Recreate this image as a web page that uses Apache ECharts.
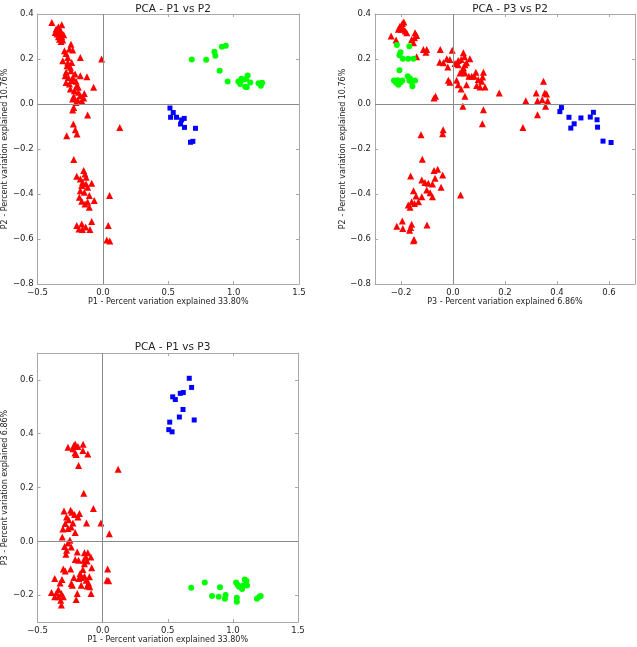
<!DOCTYPE html>
<html>
<head>
<meta charset="utf-8">
<script src="https://cdn.jsdelivr.net/npm/echarts@6/dist/echarts.min.js"></script>
<style>
html,body{margin:0;padding:0;background:#fff;}
#chart{width:637px;height:647px;}
</style>
</head>
<body>
<div id="chart"></div>
<script>
// ---- Data ----
// Panel 1: P1 (x) vs P2 (y)
const p1p2Red = [
[-0.391,0.362],[-0.315,0.352],[-0.358,0.333],[-0.345,0.322],[-0.325,0.314],[-0.350,0.311],[-0.315,0.299],[-0.332,0.288],[-0.307,0.284],
[-0.340,0.343],[-0.325,0.328],[-0.365,0.318],[-0.300,0.308],[-0.340,0.299],[-0.320,0.278],
[-0.244,0.266],[-0.256,0.244],[-0.282,0.225],[-0.231,0.240],[-0.294,0.237],[-0.173,0.207],[-0.010,0.200],[-0.269,0.207],
[-0.307,0.192],[-0.269,0.185],[-0.239,0.185],[-0.274,0.170],[-0.249,0.163],[-0.282,0.141],[-0.244,0.148],[-0.173,0.126],[-0.122,0.121],
[-0.289,0.126],[-0.213,0.133],[-0.264,0.118],[-0.231,0.118],[-0.282,0.096],[-0.256,0.089],[-0.206,0.101],[-0.239,0.104],[-0.200,0.081],
[-0.071,0.074],[-0.188,0.074],[-0.249,0.067],[-0.218,0.059],[-0.188,0.052],[-0.142,0.047],[-0.223,0.033],[-0.173,0.037],[-0.193,0.018],
[-0.162,0.015],[-0.231,0.022],[-0.147,0.027],[-0.206,0.007],[-0.223,-0.015],[-0.231,-0.027],[-0.117,-0.049],[-0.226,-0.089],[0.129,-0.104],
[-0.211,-0.114],[-0.198,-0.133],[-0.277,-0.141],[-0.223,-0.247],[-0.200,-0.321],[-0.147,-0.296],[-0.137,-0.311],[-0.129,-0.325],[-0.173,-0.333],
[-0.155,-0.348],[-0.129,-0.355],[-0.086,-0.352],[-0.162,-0.362],[-0.117,-0.370],[-0.173,-0.385],[-0.142,-0.392],[0.051,-0.407],[-0.180,-0.414],
[-0.104,-0.407],[-0.162,-0.432],[-0.117,-0.436],[-0.066,-0.429],[-0.137,-0.444],[-0.104,-0.459],[-0.086,-0.522],[-0.200,-0.540],[-0.162,-0.533],
[-0.183,-0.555],[-0.157,-0.558],[-0.132,-0.547],[-0.099,-0.558],[0.041,-0.540],[0.030,-0.604],[0.053,-0.609]
];
const p1p2Green = [
[0.68,0.198],[0.79,0.197],[0.853,0.232],[0.86,0.214],[0.91,0.254],[0.94,0.259],[0.893,0.148],[0.954,0.100],[1.036,0.100],[1.05,0.089],
[1.076,0.108],[1.107,0.127],[1.096,0.111],[1.089,0.077],[1.127,0.096],[1.19,0.092],[1.218,0.095],[1.208,0.081],[1.10,0.074],[1.06,0.112]
];
const p1p2Blue = [
[0.513,-0.018],[0.538,-0.038],[0.518,-0.059],[0.563,-0.059],[0.602,-0.071],[0.594,-0.089],[0.624,-0.104],[0.622,-0.064],[0.708,-0.108],[0.688,-0.166],[0.670,-0.170]
];

// Panel 2: P3 (x) vs P2 (y)
const p3p2Red = [
[-0.238,0.302],[-0.219,0.284],[-0.204,0.346],[-0.195,0.358],[-0.189,0.364],[-0.200,0.332],[-0.191,0.335],[-0.184,0.324],[-0.210,0.332],[-0.178,0.317],
[-0.146,0.317],[-0.140,0.305],[-0.148,0.294],[-0.159,0.287],[-0.152,0.272],[-0.140,0.210],[-0.114,0.242],[-0.101,0.242],[-0.104,0.230],[-0.049,0.242],
[-0.003,0.239],[-0.051,0.186],[-0.024,0.201],[-0.037,0.183],[-0.020,0.165],[-0.012,0.198],[0.020,0.193],[0.031,0.198],[0.040,0.228],[0.044,0.210],
[0.008,0.180],[0.020,0.175],[0.052,0.183],[0.065,0.201],[0.046,0.175],[0.040,0.161],[0.036,0.146],[0.027,0.138],[0.046,0.138],[0.061,0.123],
[0.072,0.123],[0.082,0.123],[0.088,0.141],[0.117,0.141],[0.097,0.109],[0.110,0.101],[0.091,0.082],[0.104,0.076],[0.123,0.076],[0.114,0.120],
[-0.018,0.106],[-0.012,0.097],[0.014,0.106],[0.020,0.086],[0.031,0.067],[0.052,0.086],[0.046,0.034],[0.038,-0.010],[0.117,-0.025],[0.113,-0.088],
[-0.067,0.034],[-0.073,0.027],[0.178,0.049],[0.280,0.015],[0.269,-0.104],[0.320,0.049],[0.325,0.015],[0.343,0.019],[0.348,0.101],[0.353,0.049],
[0.360,0.045],[0.325,-0.048],[0.356,-0.010],[0.364,0.015],
[-0.038,-0.114],[-0.040,-0.132],[-0.123,-0.137],[-0.118,-0.245],[-0.073,-0.296],[-0.059,-0.290],[-0.040,-0.315],[-0.069,-0.330],[-0.163,-0.320],
[-0.120,-0.338],[-0.108,-0.349],[-0.095,-0.352],[-0.079,-0.355],[-0.101,-0.382],[-0.088,-0.394],[-0.079,-0.412],[-0.046,-0.370],[-0.152,-0.385],
[-0.142,-0.409],[-0.120,-0.412],[-0.133,-0.434],[-0.159,-0.434],[-0.148,-0.442],[-0.172,-0.449],[-0.165,-0.459],[0.029,-0.404],[-0.216,-0.543],
[-0.195,-0.520],[-0.193,-0.553],[-0.159,-0.534],[-0.163,-0.549],[-0.167,-0.561],[-0.100,-0.538],[-0.150,-0.602],[-0.152,-0.608]
];
const p3p2Green = [
[-0.216,0.262],[-0.168,0.257],[-0.202,0.230],[-0.206,0.217],[-0.193,0.201],[-0.172,0.201],[-0.152,0.201],[-0.206,0.150],[-0.227,0.104],[-0.219,0.094],
[-0.210,0.086],[-0.201,0.097],[-0.195,0.104],[-0.174,0.123],[-0.168,0.104],[-0.159,0.097],[-0.146,0.104],[-0.156,0.079],[-0.165,0.113],[-0.213,0.106]
];
const p3p2Blue = [
[0.417,-0.016],[0.411,-0.034],[0.446,-0.059],[0.466,-0.088],[0.453,-0.107],[0.492,-0.062],[0.528,-0.058],[0.540,-0.037],[0.554,-0.070],[0.556,-0.103],[0.577,-0.165],[0.608,-0.171]
];

// Panel 3: P1 (x) vs P3 (y)
const p1p3Red = [
[-0.266,0.350],[-0.221,0.356],[-0.211,0.362],[-0.190,0.352],[-0.150,0.361],[-0.228,0.344],[-0.203,0.323],[-0.213,0.328],[-0.114,0.325],[-0.152,0.338],
[-0.185,0.282],[0.119,0.268],[-0.145,0.179],[-0.071,0.122],[-0.297,0.113],[-0.246,0.115],[-0.178,0.103],[-0.216,0.100],[-0.236,0.108],[-0.277,0.090],
[-0.261,0.080],[-0.228,0.068],[-0.124,0.068],[-0.013,0.068],[-0.190,0.090],[-0.287,0.066],[-0.305,0.046],[-0.266,0.048],[-0.241,0.053],[-0.211,0.033],
[0.051,0.028],[-0.310,0.016],[-0.251,0.004],[-0.266,-0.006],[-0.292,-0.019],[-0.241,-0.021],[-0.277,-0.033],[-0.282,-0.048],[-0.195,-0.040],[-0.211,-0.068],
[-0.185,-0.070],[-0.140,-0.043],[-0.114,-0.043],[-0.129,-0.058],[-0.145,-0.070],[-0.119,-0.073],[-0.091,-0.058],[0.038,-0.103],[-0.302,-0.103],[-0.246,-0.103],
[-0.287,-0.110],[-0.140,-0.083],[-0.152,-0.105],[-0.084,-0.098],[-0.173,-0.120],[-0.140,-0.130],[-0.102,-0.132],[-0.165,-0.135],[-0.183,-0.138],[-0.127,-0.145],
[-0.241,-0.157],[-0.165,-0.163],[-0.109,-0.155],[-0.119,-0.166],[-0.099,-0.169],[0.033,-0.145],[0.046,-0.147],[-0.368,-0.138],[-0.312,-0.142],[-0.327,-0.155],
[-0.393,-0.190],[-0.355,-0.192],[-0.340,-0.179],[-0.317,-0.194],[-0.338,-0.206],[-0.302,-0.206],[-0.322,-0.219],[-0.368,-0.206],[-0.317,-0.237],[-0.203,-0.216],
[-0.195,-0.194],[-0.089,-0.194],[-0.233,-0.163],[-0.221,-0.135]
];
const p1p3Green = [
[0.68,-0.173],[0.784,-0.153],[0.901,-0.171],[0.84,-0.203],[0.891,-0.206],[0.944,-0.200],[0.939,-0.214],[1.025,-0.153],[1.038,-0.162],[1.091,-0.142],
[1.104,-0.147],[1.079,-0.164],[1.071,-0.177],[1.03,-0.210],[1.03,-0.225],[1.185,-0.214],[1.203,-0.206],[1.213,-0.203],[1.048,-0.169],[1.109,-0.164]
];
const p1p3Blue = [
[0.665,0.606],[0.683,0.572],[0.619,0.553],[0.596,0.550],[0.538,0.537],[0.558,0.527],[0.617,0.490],[0.589,0.462],[0.703,0.451],[0.515,0.443],[0.508,0.415],[0.533,0.407]
];

// Tick values
const p1Ticks = [-0.5, 0.0, 0.5, 1.0, 1.5];
const p2Ticks = [-0.8, -0.6, -0.4, -0.2, 0.0, 0.2, 0.4];
const p3Ticks = [-0.2, 0.0, 0.2, 0.4, 0.6];

const titles = ['PCA - P1 vs P2', 'PCA - P3 vs P2', 'PCA - P1 vs P3'];
const xNames = ['P1 - Percent variation explained 33.80%', 'P3 - Percent variation explained 6.86%', 'P1 - Percent variation explained 33.80%'];
const yNames = ['P2 - Percent variation explained 10.76%', 'P2 - Percent variation explained 10.76%', 'P3 - Percent variation explained 6.86%'];

// ---- Chart ----
const FONT = 'DejaVu Sans';
const FRAME = '#a8a8a8';
const fmt = v => (Math.abs(v) < 1e-9 ? 0 : v).toFixed(1).replace('-', '\u2212');

const grids = [
  {left: 37, top: 14, width: 262, height: 270},
  {left: 375, top: 14, width: 260, height: 270},
  {left: 37, top: 353, width: 261, height: 269}
];
const xRanges = [[-0.5, 1.5, p1Ticks], [-0.3, 0.7, p3Ticks], [-0.5, 1.5, p1Ticks]];
const yRanges = [[-0.8, 0.4, p2Ticks], [-0.8, 0.4, p2Ticks], [-0.3, 0.7, p3Ticks]];
const yNameGaps = [27, 23, 27];

const xAxes = [], yAxes = [];
grids.forEach((g, i) => {
  const [xmin, xmax, xt] = xRanges[i];
  const [ymin, ymax, yt] = yRanges[i];
  xAxes.push({
    type: 'value', gridIndex: i, position: 'bottom', min: xmin, max: xmax,
    name: xNames[i], nameLocation: 'middle', nameGap: 14,
    nameTextStyle: {fontFamily: FONT, fontSize: 8, color: '#222'},
    axisLine: {show: true, onZero: false, lineStyle: {color: FRAME, width: 1}},
    axisTick: {show: true, inside: true, length: 3, customValues: xt, lineStyle: {color: FRAME}},
    axisLabel: {show: true, customValues: xt, formatter: fmt, margin: 4, fontFamily: FONT, fontSize: 8.5, color: '#222'},
    splitLine: {show: false}
  });
  xAxes.push({
    type: 'value', gridIndex: i, position: 'top', min: xmin, max: xmax,
    axisLine: {show: true, onZero: false, lineStyle: {color: FRAME, width: 1}},
    axisTick: {show: true, inside: true, length: 3, customValues: xt, lineStyle: {color: FRAME}},
    axisLabel: {show: false, customValues: xt},
    splitLine: {show: false}
  });
  yAxes.push({
    type: 'value', gridIndex: i, position: 'left', min: ymin, max: ymax,
    name: yNames[i], nameLocation: 'middle', nameGap: yNameGaps[i],
    nameTextStyle: {fontFamily: FONT, fontSize: 8, color: '#222'},
    axisLine: {show: true, onZero: false, lineStyle: {color: FRAME, width: 1}},
    axisTick: {show: true, inside: true, length: 3, customValues: yt, lineStyle: {color: FRAME}},
    axisLabel: {show: true, customValues: yt, formatter: fmt, margin: 4, fontFamily: FONT, fontSize: 8.5, color: '#222'},
    splitLine: {show: false}
  });
  yAxes.push({
    type: 'value', gridIndex: i, position: 'right', min: ymin, max: ymax,
    axisLine: {show: true, onZero: false, lineStyle: {color: FRAME, width: 1}},
    axisTick: {show: true, inside: true, length: 3, customValues: yt, lineStyle: {color: FRAME}},
    axisLabel: {show: false, customValues: yt},
    splitLine: {show: false}
  });
});

const panelData = [
  [p1p2Red, p1p2Green, p1p2Blue],
  [p3p2Red, p3p2Green, p3p2Blue],
  [p1p3Red, p1p3Green, p1p3Blue]
];
const styles = [
  {symbol: 'triangle', size: 7, color: '#ff0000'},
  {symbol: 'circle', size: 6, color: '#00ff00'},
  {symbol: 'rect', size: 5, color: '#0000ff'}
];

const series = [];
panelData.forEach((groups, i) => {
  groups.forEach((d, k) => {
    const s = {
      type: 'scatter', xAxisIndex: 2 * i, yAxisIndex: 2 * i,
      data: d, symbol: styles[k].symbol, symbolSize: styles[k].size,
      itemStyle: {color: styles[k].color, opacity: 1},
      silent: true, z: 3 + k
    };
    if (k === 0) {
      s.markLine = {
        silent: true, symbol: 'none', animation: false,
        label: {show: false},
        lineStyle: {color: '#8a8a8a', type: 'solid', width: 1},
        data: [{xAxis: 0}, {yAxis: 0}]
      };
    }
    series.push(s);
  });
});

const chart = echarts.init(document.getElementById('chart'), null, {renderer: 'canvas'});
chart.setOption({
  animation: false,
  backgroundColor: '#ffffff',
  title: titles.map((t, i) => ({
    text: t,
    left: grids[i].left + grids[i].width / 2,
    top: i === 2 ? 337 : -1,
    textAlign: 'center',
    textStyle: {fontFamily: FONT, fontSize: 10.5, fontWeight: 'normal', color: '#222'}
  })),
  grid: grids,
  xAxis: xAxes,
  yAxis: yAxes,
  series: series
});
</script>
</body>
</html>
